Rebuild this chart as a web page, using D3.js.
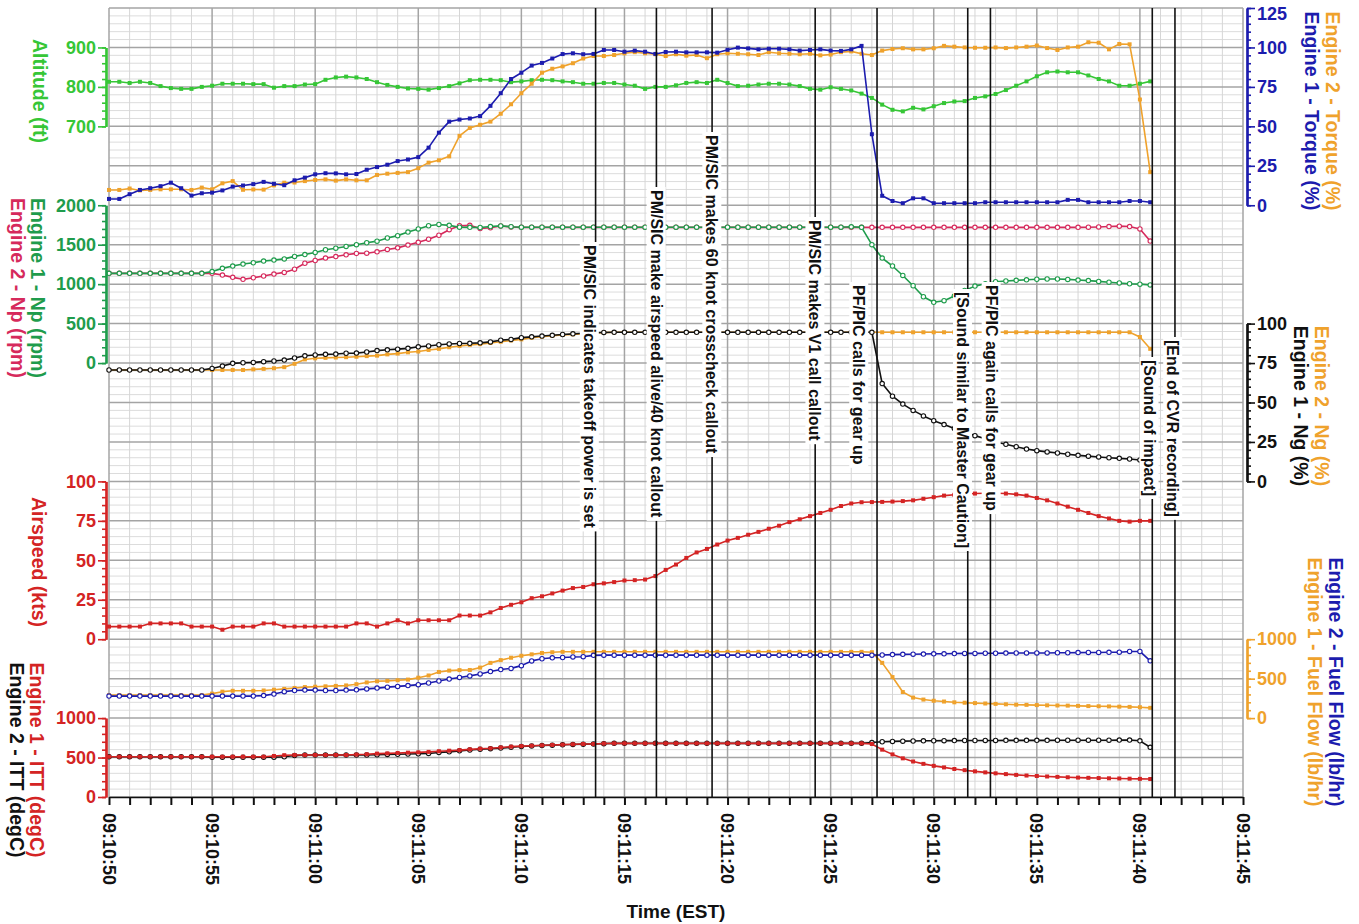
<!DOCTYPE html>
<html>
<head>
<meta charset="utf-8">
<title>Takeoff FDR / CVR parameters</title>
<script src="https://cdn.jsdelivr.net/npm/d3@7"></script>
<style>
  body { margin: 0; background: #fff; }
  svg text { font-family: "Liberation Sans", Arial, sans-serif; font-weight: bold; }
</style>
</head>
<body>
<svg id="chart" width="1359" height="924"></svg>
<script>
// =======================
// DATA  (seconds after 09:10:50, samples every 0.5 s)
// =======================
const timeTickLabels = ["09:10:50","09:10:55","09:11:00","09:11:05","09:11:10","09:11:15",
  "09:11:20","09:11:25","09:11:30","09:11:35","09:11:40","09:11:45"];
const sampleStep = 0.5;

const altitude = [
  813,813,810,813,810,802,797,795,795,800,
  803,808,808,808,807,807,798,802,802,806,
  807,818,824,826,824,820,812,805,800,796,
  795,793,797,802,809,817,818,818,817,812,
  814,817,818,817,814,812,808,808,810,810,
  806,803,795,800,800,804,810,812,810,818,
  810,802,803,806,808,808,806,802,795,793,
  799,795,791,783,772,755,742,738,747,743,
  751,759,763,764,772,776,782,792,803,814,
  827,837,839,837,837,829,820,814,803,803,
  808,814];

const torqueEng1 = [
  4,4,7,9.7,10.8,12.1,14.3,10.8,6.1,7.6,
  8,9.4,11.8,12.5,13.4,14.8,13.6,12.7,15.8,17.5,
  19.6,20.3,20.2,19.6,19.8,22.5,24.2,25.7,28,29,
  30.5,36.5,46,53,54.3,55,56.5,63,71,80,
  84,88.5,90.2,93,95.8,96.3,95.7,95.9,98.4,98.4,
  97.3,98,97.3,95.9,97.1,97.3,96.9,96.9,96.9,96.7,
  98.5,99.9,99.4,98.8,99.2,99.2,98.8,98,98.4,98.8,
  98,97.8,98.8,101,45,6,2.7,1.3,4.4,4.4,
  1.3,1.3,1.3,1.3,1.3,1.9,1.9,1.9,1.9,1.9,
  1.9,1.9,1.9,3.4,3.4,1.9,1.9,1.9,1.9,2.7,
  2.7,1.9];

const torqueEng2 = [
  9.7,9.7,10.6,9.4,9.7,10.1,10.1,10.1,9.7,11.2,
  10.1,13.9,15.3,9.8,10,9.9,12.6,14.3,14.4,15.3,
  16,16.4,15.6,16.4,15.8,15.8,19.2,20,20.5,21,
  23.5,27,28.5,31,44,49,51,53,58,64,
  71,77,84,86.5,88,90,93,94.6,94.6,95.2,
  96.3,97,96.3,95.7,94.6,95.7,94.8,95.2,93.2,95.7,
  96.3,96,95.7,95.2,97,96.3,96,95.7,96,95,
  95.5,97,97.5,96,95.2,98,99,99.5,98.8,98.8,
  99.5,101,100.5,100,99.8,99.8,100,99.6,100,100.5,
  101.2,99.6,98.4,100,100.5,103.3,103,98.8,102.2,102,
  67,21];

const npEng1 = [
  1137,1137,1137,1137,1137,1137,1137,1137,1137,1137,
  1160,1200,1229,1255,1271,1293,1305,1320,1352,1375,
  1402,1436,1456,1478,1500,1525,1545,1585,1615,1660,
  1700,1740,1757,1745,1722,1720,1718,1730,1738,1728,
  1722,1722,1722,1722,1722,1722,1722,1722,1722,1722,
  1722,1722,1722,1722,1722,1722,1722,1722,1722,1722,
  1722,1722,1722,1722,1722,1722,1722,1722,1722,1722,
  1722,1722,1727,1720,1500,1330,1230,1110,980,840,
  770,790,850,920,975,1005,1031,1040,1048,1055,
  1062,1065,1065,1060,1052,1045,1035,1025,1015,1005,
  1000,990];

const npEng2 = [
  1137,1137,1137,1137,1137,1137,1137,1137,1137,1137,
  1137,1115,1086,1061,1081,1103,1128,1149,1190,1265,
  1300,1330,1350,1372,1390,1392,1410,1440,1460,1495,
  1530,1570,1620,1690,1740,1745,1705,1715,1738,1725,
  1720,1720,1720,1720,1720,1720,1720,1720,1720,1720,
  1720,1720,1720,1720,1720,1720,1720,1720,1720,1720,
  1720,1720,1720,1720,1720,1720,1720,1720,1720,1720,
  1720,1720,1720,1720,1720,1720,1720,1720,1720,1720,
  1720,1720,1720,1720,1720,1720,1720,1720,1720,1720,
  1720,1720,1720,1720,1720,1722,1725,1730,1735,1730,
  1700,1546];

const ngEng1 = [
  70.6,70.6,70.6,70.6,70.6,70.6,70.6,70.6,70.6,70.6,
  71.6,73.1,74.8,75.2,75.4,75.9,76.3,76.9,78.2,79.6,
  80.1,80.5,80.7,81.2,81.3,82,82.9,83.4,83.8,84.3,
  85.3,85.8,86.6,87.1,87.4,87.5,87.8,88.4,89.5,90,
  91.1,91.6,92.1,92.6,93.1,93.5,93.9,94.2,94.4,94.5,
  94.5,94.5,94.5,94.5,94.5,94.5,94.5,94.5,94.5,94.5,
  94.5,94.5,94.5,94.5,94.5,94.5,94.5,94.5,94.5,94.5,
  94.5,94.5,94.5,94.5,94.5,62,54,49,45,41.5,
  38.5,36,33.5,31.5,29,27,25,23.5,22,20.5,
  19.5,18.7,18,17.2,16.5,16,15.5,15,14.6,14.2,
  13.6];

const ngEng2 = [
  70.6,70.6,70.6,70.6,70.6,70.6,70.6,70.6,70.6,70.6,
  70.6,70.6,70.6,70.6,71,71.3,71.7,72.4,74.5,77.3,
  78,78.3,78.5,78.7,79,79.4,79.7,80.5,81,81.8,
  82.3,83.3,84,85,85.8,86.5,87,87.7,88.5,89.3,
  90,91,91.7,92.3,92.8,93.2,93.6,94,94.3,94.5,
  94.5,94.5,94.5,94.5,94.5,94.5,94.5,94.5,94.5,94.5,
  94.5,94.5,94.5,94.5,94.5,94.5,94.5,94.5,94.5,94.5,
  94.5,94.5,94.5,94.5,94.5,94.5,94.5,94.5,94.5,94.5,
  94.5,94.5,94.5,94.5,94.5,94.5,94.5,94.5,94.5,94.5,
  94.5,94.5,94.5,94.5,94.5,94.5,94.5,94.5,94.5,94.5,
  91.5,84];

const airspeed = [
  8,8,8,8,10,10,10,10,8,8,
  8,6,8,8,8,10,10,8,8,8,
  8,8,8,8,10,10,8,10,12,10,
  12,12,12,12,15,15,15,17,19.8,21.8,
  23.4,26,27.2,29,30.8,32.4,33.1,34.8,35.4,36.2,
  37.2,37.4,37.8,40,43.9,47.3,51.5,55,57.2,60,
  62.5,64.2,66.2,68,70,71.9,74.2,76,78,80,
  82,84.4,86,86.8,86.9,87,87.2,87.5,88,89,
  90,91,91.5,92,92.3,92.5,92.5,92.3,91.8,91,
  89.5,88,86,84,82,80,78,76.5,75,74.5,
  75,75];

const fuelFlowEng1 = [
  291,291,291,291,291,291,291,291,291,291,
  310,335,346,346,346,350,360,370,382,393,
  398,403,408,414,430,452,467,472,480,488,
  512,540,585,602,608,610,640,700,735,765,
  790,808,825,835,840,840,840,840,840,840,
  840,840,840,840,840,840,840,840,840,840,
  840,840,840,840,840,840,840,840,840,840,
  840,840,840,840,835,700,520,330,260,235,
  220,210,200,195,190,185,180,175,170,168,
  165,162,160,158,155,152,150,148,145,142,
  138,130];

const fuelFlowEng2 = [
  279,279,279,279,279,279,279,279,279,279,
  279,279,279,279,279,285,305,335,350,355,
  355,350,350,355,358,370,380,392,402,412,
  424,445,470,495,515,535,560,590,615,630,
  665,725,752,764,768,775,778,795,798,798,
  798,798,798,798,798,798,798,798,798,798,
  798,798,798,798,798,798,798,798,798,798,
  798,798,798,798,798,800,805,808,810,812,
  815,815,818,820,820,822,822,824,825,826,
  826,826,828,828,830,832,832,834,835,845,
  845,726];

const ittEng1 = [
  511,511,511,511,511,511,511,511,511,511,
  511,511,511,511,511,511,520,530,532,532,
  532,532,532,532,538,542,550,553,558,562,
  566,572,580,587,594,604,612,617,628,638,
  645,650,655,660,664,668,672,672,678,680,
  680,680,680,680,680,680,680,680,680,680,
  680,680,680,680,680,680,680,680,680,680,
  680,680,680,680,672,600,540,490,450,420,
  395,375,355,340,325,312,300,290,280,272,
  266,260,255,250,246,243,240,237,235,232,
  230,228];

const ittEng2 = [
  511,511,511,511,511,511,511,511,511,511,
  505,505,505,505,505,505,505,510,525,532,
  532,532,532,532,532,532,535,540,542,545,
  548,552,565,572,585,595,605,612,620,630,
  640,647,652,657,662,666,670,672,676,680,
  680,680,680,680,680,680,680,680,680,680,
  680,680,680,680,680,680,680,680,680,680,
  680,680,680,680,690,700,705,708,710,712,
  713,714,715,716,716,717,717,718,718,718,
  718,718,720,720,720,720,720,720,721,722,
  712,630];

// CVR events (seconds after 09:10:50)
const eventTimes = [23.6, 26.55, 29.25, 34.25, 37.25, 41.65, 42.75, 50.6, 51.7];
const eventTexts = [
  "PM/SIC indicates takeoff power is set",
  "PM/SIC make airspeed alive/40 knot callout",
  "PM/SIC makes 60 knot crosscheck callout",
  "PM/SIC makes V1 call callout",
  "PF/PIC calls for gear up",
  "[Sound similar to Master Caution]",
  "PF/PIC again calls for gear up",
  "[Sound of impact]",
  "[End of CVR recording]"
];

// =======================
// LAYOUT
// =======================
const plot = { left: 109, right: 1243, top: 8, bottom: 797, rows: 20, sub: 5 };
const rowH = (plot.bottom - plot.top) / plot.rows;
const rowY = k => plot.top + k * rowH;

const C = {
  altGreen: "#36c636", npGreen: "#1f9c4c", crimson: "#d62a5c", blue: "#1c1cae",
  orange: "#efa22c", red: "#d42424", black: "#111111"
};

// where the event labels sit (top of text, horizontal nudge)
const eventLabelLayout = [
  { y: 245, dx: -6 }, { y: 190, dx: 0 }, { y: 135, dx: 0 }, { y: 220, dx: 0 },
  { y: 285, dx: -18 }, { y: 292, dx: -5 }, { y: 285, dx: 1 }, { y: 360, dx: -3 }, { y: 340, dx: -2 }
];

const svg = d3.select("#chart");

const x = d3.scaleLinear().domain([0, 55]).range([plot.left, plot.right]);

// Axes, one per panel
const axes = {
  alt:  { side: "left",  domain: [700, 900],  rows: [3, 1],   major: 100, color: C.altGreen },
  np:   { side: "left",  domain: [0, 2000],   rows: [9, 5],   major: 500, color: C.npGreen },
  spd:  { side: "left",  domain: [0, 100],    rows: [16, 12], major: 25,  color: C.red },
  itt:  { side: "left",  domain: [0, 1000],   rows: [20, 18], major: 500, color: C.red },
  trq:  { side: "right", domain: [0, 125],    rows: [5, 0],   major: 25,  color: C.blue },
  ng:   { side: "right", domain: [0, 100],    rows: [12, 8],  major: 25,  color: C.black },
  ff:   { side: "right", domain: [0, 1000],   rows: [18, 16], major: 500, color: C.orange }
};
Object.values(axes).forEach(a => {
  a.scale = d3.scaleLinear().domain(a.domain).range([rowY(a.rows[0]), rowY(a.rows[1])]);
});

// =======================
// GRID
// =======================
const grid = svg.append("g");
const minorRows = d3.range(0, plot.rows * plot.sub + 1).filter(j => j % plot.sub !== 0);
const majorRows = d3.range(0, plot.rows + 1);
const secs = d3.range(0, 56);

grid.selectAll(".hmin").data(minorRows).enter().append("line")
  .attr("x1", plot.left).attr("x2", plot.right)
  .attr("y1", j => rowY(j / plot.sub)).attr("y2", j => rowY(j / plot.sub))
  .attr("stroke", "#dcdcdc").attr("stroke-width", 1);

grid.selectAll(".vmin").data(secs.filter(s => s % 5 !== 0)).enter().append("line")
  .attr("x1", d => x(d)).attr("x2", d => x(d))
  .attr("y1", plot.top).attr("y2", plot.bottom)
  .attr("stroke", "#d6d6d6").attr("stroke-width", 1);

grid.selectAll(".hmaj").data(majorRows).enter().append("line")
  .attr("x1", plot.left).attr("x2", plot.right)
  .attr("y1", k => rowY(k)).attr("y2", k => rowY(k))
  .attr("stroke", "#a4a4a4").attr("stroke-width", 1.5);

grid.selectAll(".vmaj").data(secs.filter(s => s % 5 === 0)).enter().append("line")
  .attr("x1", d => x(d)).attr("x2", d => x(d))
  .attr("y1", plot.top).attr("y2", plot.bottom)
  .attr("stroke", "#a4a4a4").attr("stroke-width", 1.5);

// =======================
// SERIES
// =======================
const series = [
  { values: altitude,     axis: "alt", color: C.altGreen, marker: "fill" },
  { values: torqueEng2,   axis: "trq", color: C.orange,   marker: "fill" },
  { values: torqueEng1,   axis: "trq", color: C.blue,     marker: "fill" },
  { values: npEng2,       axis: "np",  color: C.crimson,  marker: "open" },
  { values: npEng1,       axis: "np",  color: C.npGreen,  marker: "open" },
  { values: ngEng2,       axis: "ng",  color: C.orange,   marker: "fill" },
  { values: ngEng1,       axis: "ng",  color: C.black,    marker: "open" },
  { values: airspeed,     axis: "spd", color: C.red,      marker: "fill" },
  { values: fuelFlowEng1, axis: "ff",  color: C.orange,   marker: "fill" },
  { values: fuelFlowEng2, axis: "ff",  color: C.blue,     marker: "open" },
  { values: ittEng2,      axis: "itt", color: C.black,    marker: "open" },
  { values: ittEng1,      axis: "itt", color: C.red,      marker: "fill" }
];

series.forEach(s => {
  const y = axes[s.axis].scale;
  const pts = s.values.map((v, i) => ({ t: i * sampleStep, v }));
  const g = svg.append("g");
  g.append("path")
    .datum(pts)
    .attr("fill", "none")
    .attr("stroke", s.color)
    .attr("stroke-width", 1.6)
    .attr("stroke-linejoin", "round")
    .attr("d", d3.line().x(d => x(d.t)).y(d => y(d.v)));
  if (s.marker === "fill") {
    g.selectAll("rect").data(pts).enter().append("rect")
      .attr("x", d => x(d.t) - 2).attr("y", d => y(d.v) - 2)
      .attr("width", 4).attr("height", 4)
      .attr("fill", s.color);
  } else {
    g.selectAll("circle").data(pts).enter().append("circle")
      .attr("cx", d => x(d.t)).attr("cy", d => y(d.v))
      .attr("r", 2.2)
      .attr("fill", "#fff").attr("stroke", s.color).attr("stroke-width", 1.1);
  }
});

// =======================
// EVENTS (CVR)
// =======================
const ev = svg.append("g");
eventTimes.forEach((t, i) => {
  ev.append("line")
    .attr("x1", x(t)).attr("x2", x(t))
    .attr("y1", plot.top).attr("y2", plot.bottom)
    .attr("stroke", "#111").attr("stroke-width", 1.6);
});
eventTimes.forEach((t, i) => {
  const lay = eventLabelLayout[i];
  const g = ev.append("g")
    .attr("transform", `translate(${x(t) + lay.dx},${lay.y}) rotate(90)`);
  const txt = g.append("text")
    .attr("dy", "0.36em")
    .style("font-size", "16px")
    .attr("fill", "#111")
    .text(eventTexts[i]);
  const bb = txt.node().getBBox();
  g.insert("rect", "text")
    .attr("x", bb.x - 3).attr("y", bb.y - 1)
    .attr("width", bb.width + 6).attr("height", bb.height + 2)
    .attr("fill", "#fff");
});

// =======================
// Y AXES
// =======================
Object.values(axes).forEach(a => {
  const left = a.side === "left";
  const ax = left ? plot.left - 3 : plot.right + 4;
  const gen = left ? d3.axisLeft : d3.axisRight;
  const [d0, d1] = a.domain;
  const minorStep = a.major / plot.sub;

  const gMin = svg.append("g").attr("transform", `translate(${ax},0)`)
    .call(gen(a.scale).tickValues(d3.range(d0, d1 + minorStep / 2, minorStep))
      .tickSize(4).tickSizeOuter(0).tickFormat(""));
  const gMaj = svg.append("g").attr("transform", `translate(${ax},0)`)
    .call(gen(a.scale).tickValues(d3.range(d0, d1 + a.major / 2, a.major))
      .tickSize(8).tickSizeOuter(0).tickPadding(2).tickFormat(d3.format("d")));

  [gMin, gMaj].forEach(g => {
    g.select(".domain").attr("stroke", a.color).attr("stroke-width", 2.2);
    g.selectAll(".tick line").attr("stroke", a.color).attr("stroke-width", 1.6);
  });
  gMaj.selectAll(".tick text")
    .attr("fill", a.color)
    .style("font-size", "18px")
    .style("font-family", "'Liberation Sans', Arial, sans-serif")
    .style("font-weight", "bold");
  // keep a label that sits on the top edge inside the page
  gMaj.selectAll(".tick")
    .filter(d => a.scale(d) - 9 < 0)
    .select("text")
    .attr("dy", "0.62em");
});

// =======================
// X AXIS
// =======================
const xAxisG = svg.append("g")
  .attr("transform", `translate(0,${plot.bottom})`)
  .call(d3.axisBottom(x).tickValues(secs).tickSize(8).tickSizeOuter(0).tickFormat(""));
xAxisG.select(".domain").attr("stroke", "#111").attr("stroke-width", 1.6);
xAxisG.selectAll(".tick line").attr("stroke", "#111").attr("stroke-width", 2);

svg.append("g").selectAll("text")
  .data(timeTickLabels)
  .enter().append("text")
    .attr("transform", (d, i) => `translate(${x(i * 5)},${plot.bottom + 16}) rotate(90)`)
    .attr("dy", "0.36em")
    .style("font-size", "18px")
    .attr("fill", "#111")
    .text(d => d);

svg.append("text")
  .attr("x", 676).attr("y", 918)
  .attr("text-anchor", "middle")
  .style("font-size", "19px")
  .attr("fill", "#111")
  .text("Time (EST)");

// =======================
// AXIS TITLES
// =======================
const titles = [
  { text: "Altitude (ft)",               color: C.altGreen, x: 40,   y: 91 },
  { text: "Engine 1 - Np (rpm)",         color: C.npGreen,  x: 38,   y: 288 },
  { text: "Engine 2 - Np (rpm)",         color: C.crimson,  x: 18,   y: 288 },
  { text: "Airspeed (kts)",              color: C.red,      x: 39,   y: 562 },
  { text: "Engine 1 - ITT (degC)",       color: C.red,      x: 37,   y: 760 },
  { text: "Engine 2 - ITT (degC)",       color: C.black,    x: 17,   y: 760 },
  { text: "Engine 2 - Torque (%)",       color: C.orange,   x: 1333, y: 111 },
  { text: "Engine 1 - Torque (%)",       color: C.blue,     x: 1312, y: 111 },
  { text: "Engine 2 - Ng (%)",           color: C.orange,   x: 1322, y: 406 },
  { text: "Engine 1 - Ng (%)",           color: C.black,    x: 1301, y: 406 },
  { text: "Engine 2 - Fuel Flow (lb/hr)", color: C.blue,    x: 1336, y: 682 },
  { text: "Engine 1 - Fuel Flow (lb/hr)", color: C.orange,  x: 1315, y: 682 }
];
svg.append("g").selectAll("text")
  .data(titles)
  .enter().append("text")
    .attr("transform", d => `translate(${d.x},${d.y}) rotate(90)`)
    .attr("text-anchor", "middle")
    .attr("dy", "0.36em")
    .style("font-size", "19.5px")
    .attr("fill", d => d.color)
    .text(d => d.text);
</script>
</body>
</html>
